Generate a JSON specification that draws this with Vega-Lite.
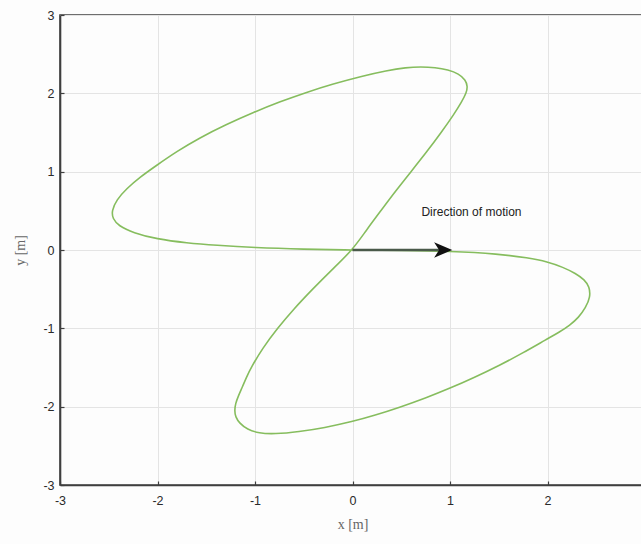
{
  "$schema": "https://vega.github.io/schema/vega-lite/v6.json",
  "width": 585,
  "height": 470,
  "autosize": {"type": "none"},
  "padding": {"left": 60, "top": 15, "right": 0, "bottom": 59},
  "background": "#fdfdfd",
  "config": {
    "view": {"stroke": "#3f3f3f", "strokeWidth": 1.6},
    "axis": {
      "domainColor": "#3f3f3f",
      "domainWidth": 1.6,
      "gridColor": "#e4e4e4",
      "gridWidth": 1,
      "tickColor": "#3f3f3f",
      "tickSize": -4,
      "tickWidth": 1.2,
      "labelFont": "Liberation Sans",
      "labelFontSize": 12.5,
      "labelColor": "#2a2a2a",
      "labelFontWeight": "normal",
      "labelExpr": "'' + datum.value",
      "titleFont": "Liberation Serif",
      "titleFontSize": 14,
      "titleFontWeight": "normal",
      "titleColor": "#666666"
    }
  },
  "datasets": {
    "path": [
      {"t": 0, "x": 0, "y": 0},
      {"t": 1, "x": 0.5, "y": -0.005},
      {"t": 2, "x": 1.0, "y": -0.015},
      {"t": 3, "x": 1.5, "y": -0.05},
      {"t": 4, "x": 1.8, "y": -0.1},
      {"t": 5, "x": 2.0, "y": -0.15},
      {"t": 6, "x": 2.16, "y": -0.22},
      {"t": 7, "x": 2.29, "y": -0.3},
      {"t": 8, "x": 2.38, "y": -0.38},
      {"t": 9, "x": 2.43, "y": -0.47},
      {"t": 10, "x": 2.44, "y": -0.6},
      {"t": 11, "x": 2.39, "y": -0.74},
      {"t": 12, "x": 2.32, "y": -0.86},
      {"t": 13, "x": 2.23, "y": -0.96},
      {"t": 14, "x": 2.12, "y": -1.05},
      {"t": 15, "x": 1.99, "y": -1.14},
      {"t": 16, "x": 1.75, "y": -1.313},
      {"t": 17, "x": 1.51, "y": -1.471},
      {"t": 18, "x": 1.25, "y": -1.627},
      {"t": 19, "x": 1.0, "y": -1.765},
      {"t": 20, "x": 0.75, "y": -1.89},
      {"t": 21, "x": 0.48, "y": -2.01},
      {"t": 22, "x": 0.23, "y": -2.11},
      {"t": 23, "x": 0.0, "y": -2.19},
      {"t": 24, "x": -0.29, "y": -2.27},
      {"t": 25, "x": -0.55, "y": -2.32},
      {"t": 26, "x": -0.8, "y": -2.35},
      {"t": 27, "x": -0.96, "y": -2.34},
      {"t": 28, "x": -1.08, "y": -2.29},
      {"t": 29, "x": -1.16, "y": -2.21},
      {"t": 30, "x": -1.2, "y": -2.13},
      {"t": 31, "x": -1.21, "y": -2.05},
      {"t": 32, "x": -1.2, "y": -1.96},
      {"t": 33, "x": -1.17, "y": -1.86},
      {"t": 34, "x": -1.13, "y": -1.75},
      {"t": 35, "x": -1.09, "y": -1.63},
      {"t": 36, "x": -1.04, "y": -1.5},
      {"t": 37, "x": -0.92, "y": -1.25},
      {"t": 38, "x": -0.77, "y": -1.0},
      {"t": 39, "x": -0.6, "y": -0.75},
      {"t": 40, "x": -0.41, "y": -0.5},
      {"t": 41, "x": -0.21, "y": -0.25},
      {"t": 42, "x": 0, "y": 0},
      {"t": 43, "x": 0.14, "y": 0.25},
      {"t": 44, "x": 0.29, "y": 0.5},
      {"t": 45, "x": 0.44, "y": 0.75},
      {"t": 46, "x": 0.6, "y": 1.0},
      {"t": 47, "x": 0.76, "y": 1.25},
      {"t": 48, "x": 0.91, "y": 1.5},
      {"t": 49, "x": 1.04, "y": 1.73},
      {"t": 50, "x": 1.12, "y": 1.89},
      {"t": 51, "x": 1.17, "y": 2.01},
      {"t": 52, "x": 1.18, "y": 2.09},
      {"t": 53, "x": 1.16, "y": 2.17},
      {"t": 54, "x": 1.09, "y": 2.25},
      {"t": 55, "x": 0.98, "y": 2.3},
      {"t": 56, "x": 0.85, "y": 2.33},
      {"t": 57, "x": 0.7, "y": 2.34},
      {"t": 58, "x": 0.55, "y": 2.33},
      {"t": 59, "x": 0.35, "y": 2.29},
      {"t": 60, "x": 0.1, "y": 2.22},
      {"t": 61, "x": -0.2, "y": 2.12},
      {"t": 62, "x": -0.48, "y": 2.01},
      {"t": 63, "x": -0.75, "y": 1.89},
      {"t": 64, "x": -1.01, "y": 1.76},
      {"t": 65, "x": -1.3, "y": 1.6},
      {"t": 66, "x": -1.57, "y": 1.43},
      {"t": 67, "x": -1.8, "y": 1.26},
      {"t": 68, "x": -2.01, "y": 1.08},
      {"t": 69, "x": -2.18, "y": 0.93},
      {"t": 70, "x": -2.32, "y": 0.78},
      {"t": 71, "x": -2.42, "y": 0.64},
      {"t": 72, "x": -2.47, "y": 0.5},
      {"t": 73, "x": -2.46, "y": 0.4},
      {"t": 74, "x": -2.4, "y": 0.31},
      {"t": 75, "x": -2.25, "y": 0.22},
      {"t": 76, "x": -2.01, "y": 0.14},
      {"t": 77, "x": -1.7, "y": 0.09},
      {"t": 78, "x": -1.4, "y": 0.06},
      {"t": 79, "x": -1.01, "y": 0.03},
      {"t": 80, "x": -0.5, "y": 0.01},
      {"t": 81, "x": 0, "y": 0}
    ],
    "arrow": [
      {"x": 0, "x2": 0.93, "y": 0, "head": 0.93, "label": "Direction of motion", "lx": 1.22, "ly": 0.48}
    ]
  },
  "layer": [
    {
      "data": {"name": "path"},
      "mark": {"type": "line", "color": "#86bd5e", "strokeWidth": 1.6, "interpolate": "basis"},
      "encoding": {
        "x": {
          "field": "x", "type": "quantitative",
          "scale": {"domain": [-3, 3], "nice": false, "zero": false},
          "axis": {"title": "x [m]", "values": [-3, -2, -1, 0, 1, 2, 3], "labelPadding": 13, "titlePadding": 11, "labelFlush": false}
        },
        "y": {
          "field": "y", "type": "quantitative",
          "scale": {"domain": [-3, 3], "nice": false, "zero": false},
          "axis": {"title": "y [m]", "values": [-3, -2, -1, 0, 1, 2, 3], "labelPadding": 10, "titlePadding": 15, "labelFlush": false}
        },
        "order": {"field": "t", "type": "quantitative"}
      }
    },
    {
      "data": {"name": "arrow"},
      "mark": {"type": "rule", "color": "#4a5a4a", "strokeWidth": 2.6},
      "encoding": {
        "x": {"field": "x", "type": "quantitative"},
        "x2": {"field": "x2"},
        "y": {"field": "y", "type": "quantitative"}
      }
    },
    {
      "data": {"name": "arrow"},
      "mark": {
        "type": "point",
        "shape": "M 1 0 L -1 -0.85 L -0.45 0 L -1 0.85 Z",
        "filled": true,
        "color": "#111111",
        "opacity": 1,
        "size": 330
      },
      "encoding": {
        "x": {"field": "head", "type": "quantitative"},
        "y": {"field": "y", "type": "quantitative"}
      }
    },
    {
      "data": {"name": "arrow"},
      "mark": {"type": "text", "font": "Liberation Sans", "fontSize": 12, "color": "#222222", "align": "center", "baseline": "middle"},
      "encoding": {
        "x": {"field": "lx", "type": "quantitative"},
        "y": {"field": "ly", "type": "quantitative"},
        "text": {"field": "label"}
      }
    }
  ]
}
